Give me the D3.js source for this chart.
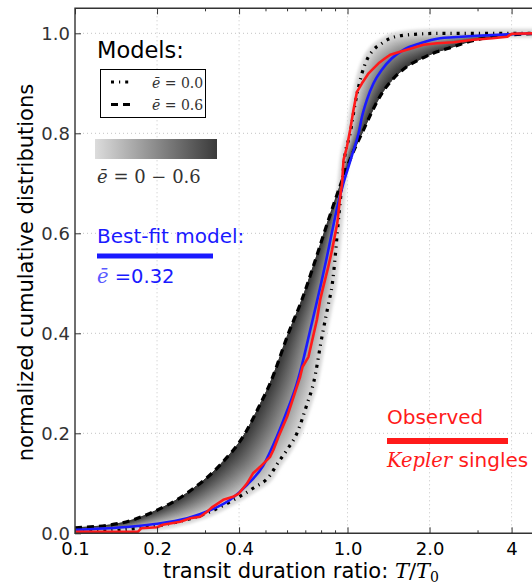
<!DOCTYPE html>
<html>
<head>
<meta charset="utf-8">
<script src="https://cdn.jsdelivr.net/npm/d3@7"></script>
<style>
  body { margin: 0; background: #fff; }
  svg { display: block; }
  text { font-family: "DejaVu Sans", sans-serif; }
  .serif { font-family: "DejaVu Serif", serif; }
</style>
</head>
<body>
<svg id="chart" width="532" height="587"></svg>
<script>
// ---- axis ticks ----
const xTicksMajor = [0.1, 0.2, 0.4, 1.0, 2.0, 4];
const xTickLabels = ["0.1", "0.2", "0.4", "1.0", "2.0", "4"];
const xTicksMinor = [0.3, 0.5, 0.6, 0.7, 0.8, 0.9, 3];
const yTicks = [0, 0.2, 0.4, 0.6, 0.8, 1.0];
const yTickLabels = ["0.0", "0.2", "0.4", "0.6", "0.8", "1.0"];

// ---- cumulative distributions: [T/T0, fraction] ----
// model with circular orbits (mean e = 0.0)
const modelE00 = [
  [0.1, 0.002], [0.15, 0.007], [0.211, 0.017], [0.26, 0.028], [0.313, 0.043],
  [0.371, 0.063], [0.45, 0.09], [0.52, 0.116], [0.551, 0.138], [0.6, 0.167],
  [0.652, 0.2], [0.709, 0.257], [0.75, 0.3], [0.81, 0.4], [0.85, 0.457],
  [0.88, 0.5], [0.9, 0.55], [0.917, 0.6], [0.935, 0.65], [0.955, 0.70],
  [0.975, 0.75], [1.023, 0.8], [1.067, 0.86], [1.098, 0.893], [1.13, 0.92],
  [1.178, 0.947], [1.246, 0.967], [1.337, 0.98], [1.435, 0.99], [1.56, 0.995],
  [1.76, 0.998], [2.2, 1.0], [5, 1.0]
];
// model with mean e = 0.6
const modelE06 = [
  [0.1, 0.011], [0.146, 0.02], [0.194, 0.043], [0.257, 0.08], [0.341, 0.137],
  [0.421, 0.2], [0.47, 0.25], [0.52, 0.3], [0.607, 0.4], [0.68, 0.467],
  [0.75, 0.535], [0.82, 0.6], [0.886, 0.655], [0.954, 0.705], [1.026, 0.75],
  [1.145, 0.807], [1.229, 0.843], [1.337, 0.88], [1.476, 0.91], [1.65, 0.933],
  [1.877, 0.95], [2.13, 0.963], [2.35, 0.97], [2.66, 0.98], [3.16, 0.99],
  [4.0, 0.997], [5.0, 1.0]
];
// best-fit model, mean e = 0.32
const bestFit = [
  [0.1, 0.007], [0.15, 0.012], [0.193, 0.018], [0.258, 0.03], [0.313, 0.046],
  [0.371, 0.067], [0.428, 0.097], [0.49, 0.135], [0.55, 0.193], [0.6, 0.245],
  [0.652, 0.3], [0.69, 0.35], [0.725, 0.4], [0.762, 0.45], [0.8, 0.5],
  [0.838, 0.55], [0.875, 0.6], [0.915, 0.65], [0.96, 0.695], [1.0, 0.727],
  [1.04, 0.757], [1.098, 0.8], [1.13, 0.833], [1.178, 0.867], [1.246, 0.9],
  [1.337, 0.927], [1.455, 0.95], [1.605, 0.967], [1.85, 0.98], [2.19, 0.99],
  [2.45, 0.992], [3.0, 0.995], [3.95, 0.998], [5, 1.0]
];
// observed Kepler singles
const observed = [
  [0.1, 0.003], [0.17, 0.003], [0.175, 0.01], [0.2, 0.012], [0.21, 0.017],
  [0.243, 0.023], [0.265, 0.03], [0.288, 0.033], [0.305, 0.043], [0.32, 0.053],
  [0.35, 0.067], [0.38, 0.073], [0.4, 0.08], [0.428, 0.1], [0.45, 0.12],
  [0.478, 0.133], [0.52, 0.153], [0.535, 0.167], [0.558, 0.193], [0.6, 0.233],
  [0.634, 0.273], [0.67, 0.313], [0.684, 0.333], [0.719, 0.353], [0.772, 0.427],
  [0.794, 0.467], [0.81, 0.487], [0.85, 0.533], [0.878, 0.567], [0.917, 0.62],
  [0.94, 0.673], [0.955, 0.7], [0.967, 0.747], [0.995, 0.773], [1.023, 0.807],
  [1.052, 0.847], [1.083, 0.883], [1.13, 0.9], [1.195, 0.92], [1.246, 0.93],
  [1.3, 0.94], [1.375, 0.95], [1.435, 0.957], [1.56, 0.963], [1.725, 0.97],
  [1.9, 0.977], [2.13, 0.98], [2.45, 0.982], [2.9, 0.987], [3.4, 0.99],
  [3.85, 0.993], [4.0, 0.999], [5, 1.0]
];

const BLUE = "#1a1aff", RED = "#ff1a1a";
const DARK = "#353535", LIGHT = "#d6d6d6";

const svg = d3.select("#chart");
const x = d3.scaleLog().domain([0.1, 5]).range([75, 538]);
const y = d3.scaleLinear().domain([0, 1.05]).range([533.3, 8.3]);
const [x0, x1] = x.range(), [yb, yt] = y.range();

const defs = svg.append("defs");
defs.append("clipPath").attr("id", "plotClip")
  .append("rect").attr("x", x0).attr("y", yt).attr("width", x1 - x0).attr("height", yb - yt);
defs.append("filter").attr("id", "soft").attr("x", "-5%").attr("y", "-5%").attr("width", "110%").attr("height", "110%")
  .append("feGaussianBlur").attr("stdDeviation", 1.6);

// ---- grid ----
const grid = svg.append("g").attr("stroke", "#c4c4c4").attr("stroke-width", 1).attr("stroke-dasharray", "1,3");
grid.selectAll("line.gx").data(xTicksMajor.slice(1)).join("line")
  .attr("x1", d => x(d)).attr("x2", d => x(d)).attr("y1", yt).attr("y2", yb);
grid.selectAll("line.gy").data(yTicks.slice(1)).join("line")
  .attr("x1", x0).attr("x2", x1).attr("y1", d => y(d)).attr("y2", d => y(d));

// ---- plotted content ----
const plot = svg.append("g").attr("clip-path", "url(#plotClip)");
const haloG = plot.append("g");
const bandG = plot.append("g");
const lineG = plot.append("g");

const line = d3.line().x(d => x(d[0])).y(d => y(d[1])).curve(d3.curveMonotoneX);
const lineRaw = d3.line().x(d => x(d[0])).y(d => y(d[1]));

haloG.append("path").attr("d", line(modelE00)).attr("fill", "none")
  .attr("stroke", "#d8d8d8").attr("stroke-width", 9).attr("filter", "url(#soft)");

const pE00 = lineG.append("path").attr("d", line(modelE00)).attr("fill", "none")
  .attr("stroke", "#000").attr("stroke-width", 3.2).attr("stroke-dasharray", "3,5,1.2,5");
const pE06 = lineG.append("path").attr("d", line(modelE06)).attr("fill", "none")
  .attr("stroke", "#000").attr("stroke-width", 3.2).attr("stroke-dasharray", "7,5");
lineG.append("path").attr("d", line(bestFit)).attr("fill", "none")
  .attr("stroke", BLUE).attr("stroke-width", 2.6);
lineG.append("path").attr("d", lineRaw(observed)).attr("fill", "none")
  .attr("stroke", RED).attr("stroke-width", 2.6).attr("stroke-linejoin", "round");

// ---- shaded family of models between e = 0.0 and e = 0.6 ----
function sampleAlong(node, n) {
  const L = node.getTotalLength();
  return d3.range(n + 1).map(i => { const p = node.getPointAtLength(L * i / n); return [p.x, p.y]; });
}
const darkPts = sampleAlong(pE06.node(), 320);
const lightPts = sampleAlong(pE00.node(), 320);
function nearestIndex(p, arr) {
  let bi = 0, bd = Infinity;
  for (let i = 0; i < arr.length; i++) {
    const dx = arr[i][0] - p[0], dy = arr[i][1] - p[1], d = dx * dx + dy * dy;
    if (d < bd) { bd = d; bi = i; }
  }
  return bi;
}
let gid = 0;
function shadeFrom(src, dst, cSrc, cDst) {
  const idx = src.map(p => nearestIndex(p, dst));
  for (let i = 0; i < src.length - 1; i++) {
    const s0 = src[i], s1 = src[i + 1], t0 = dst[idx[i]], t1 = dst[idx[i + 1]];
    const ms = [(s0[0] + s1[0]) / 2, (s0[1] + s1[1]) / 2];
    const mt = [(t0[0] + t1[0]) / 2, (t0[1] + t1[1]) / 2];
    const id = "shade" + (gid++);
    const g = defs.append("linearGradient").attr("id", id).attr("gradientUnits", "userSpaceOnUse")
      .attr("x1", ms[0]).attr("y1", ms[1]).attr("x2", mt[0]).attr("y2", mt[1]);
    g.append("stop").attr("offset", 0).attr("stop-color", cSrc);
    g.append("stop").attr("offset", 1).attr("stop-color", cDst);
    const pts = [s0, s1];
    const lo = Math.min(idx[i], idx[i + 1]), hi = Math.max(idx[i], idx[i + 1]);
    const between = dst.slice(lo, hi + 1);
    if (idx[i + 1] >= idx[i]) between.reverse();
    bandG.append("path").attr("d", "M" + pts.concat(between).map(p => p.join(",")).join("L") + "Z")
      .attr("fill", `url(#${id})`).attr("stroke", `url(#${id})`).attr("stroke-width", 0.8);
  }
}
shadeFrom(darkPts, lightPts, DARK, LIGHT);
shadeFrom(lightPts, darkPts, LIGHT, DARK);

// ---- axes ----
const axG = svg.append("g").attr("font-size", 18);
const bottomAx = axG.append("g").attr("transform", `translate(0,${yb})`)
  .call(d3.axisBottom(x).tickValues(xTicksMajor).tickFormat((d, i) => xTickLabels[i])
    .tickSizeInner(-6).tickSizeOuter(0).tickPadding(9));
axG.append("g").attr("transform", `translate(0,${yb})`)
  .call(d3.axisBottom(x).tickValues(xTicksMinor).tickFormat("").tickSizeInner(-3).tickSizeOuter(0));
axG.append("g").attr("transform", `translate(0,${yt})`)
  .call(d3.axisTop(x).tickValues(xTicksMajor).tickFormat("").tickSizeInner(-6).tickSizeOuter(0));
axG.append("g").attr("transform", `translate(0,${yt})`)
  .call(d3.axisTop(x).tickValues(xTicksMinor).tickFormat("").tickSizeInner(-3).tickSizeOuter(0));
const leftAx = axG.append("g").attr("transform", `translate(${x0},0)`)
  .call(d3.axisLeft(y).tickValues(yTicks).tickFormat((d, i) => yTickLabels[i])
    .tickSizeInner(-6).tickSizeOuter(0).tickPadding(5));
axG.selectAll(".domain").remove();
axG.selectAll(".tick line").attr("stroke", "#333").attr("stroke-width", 1);
bottomAx.selectAll("text").attr("font-family", "DejaVu Sans").attr("font-size", 18).attr("fill", "#000");
leftAx.selectAll("text").attr("font-family", "DejaVu Serif").attr("font-size", 18).attr("fill", "#333");

// spines
const spine = svg.append("g").attr("stroke", "#333").attr("stroke-width", 1.4).attr("fill", "none");
spine.append("path").attr("d", `M${x1 + 2},${yt}H${x0}V${yb}H${x1 + 2}`);

// axis titles
const xt = svg.append("text").attr("x", 163).attr("y", 578).attr("font-size", 21).attr("fill", "#000");
xt.append("tspan").text("transit duration ratio: ");
xt.append("tspan").attr("class", "serif").attr("font-style", "italic").text("T");
xt.append("tspan").attr("class", "serif").text("/");
xt.append("tspan").attr("class", "serif").attr("font-style", "italic").text("T");
xt.append("tspan").attr("class", "serif").attr("font-size", 14).attr("dy", 4).text("0");

svg.append("text").attr("transform", "translate(33,272.5) rotate(-90)")
  .attr("text-anchor", "middle").attr("font-size", 21).attr("fill", "#000")
  .text("normalized cumulative distributions");

// ---- legend: models ----
svg.append("text").attr("x", 97).attr("y", 58).attr("font-size", 22.5).text("Models:");
svg.append("rect").attr("x", 100.5).attr("y", 69.5).attr("width", 105).attr("height", 48)
  .attr("fill", "#fff").attr("stroke", "#000").attr("stroke-width", 1);
const legRows = [
  { dash: "3,5,1.2,5", label: "0.0", yy: 82 },
  { dash: "7,5", label: "0.6", yy: 104.5 }
];
legRows.forEach(r => {
  svg.append("line").attr("x1", 111).attr("x2", 133).attr("y1", r.yy).attr("y2", r.yy)
    .attr("stroke", "#000").attr("stroke-width", 3.2).attr("stroke-dasharray", r.dash);
  const t = svg.append("text").attr("class", "serif").attr("x", 152).attr("y", r.yy + 5.5)
    .attr("font-size", 14).attr("fill", "#333");
  t.append("tspan").attr("font-style", "italic").text("ē");
  t.append("tspan").text(" = " + r.label);
});

const grad = defs.append("linearGradient").attr("id", "eBar");
grad.append("stop").attr("offset", 0).attr("stop-color", "#dcdcdc");
grad.append("stop").attr("offset", 1).attr("stop-color", "#3a3a3a");
svg.append("rect").attr("x", 95).attr("y", 139).attr("width", 122).attr("height", 20).attr("fill", "url(#eBar)");
const eRange = svg.append("text").attr("class", "serif").attr("x", 97).attr("y", 183)
  .attr("font-size", 18).attr("fill", "#333");
eRange.append("tspan").attr("font-style", "italic").text("ē");
eRange.append("tspan").text(" = 0 − 0.6");

// ---- legend: best fit ----
svg.append("text").attr("x", 97).attr("y", 243).attr("font-size", 20).attr("fill", BLUE).text("Best-fit model:");
svg.append("line").attr("x1", 97).attr("x2", 213).attr("y1", 256).attr("y2", 256)
  .attr("stroke", BLUE).attr("stroke-width", 5);
const bf = svg.append("text").attr("x", 97).attr("y", 283).attr("font-size", 19.5).attr("fill", BLUE);
bf.append("tspan").attr("class", "serif").attr("font-style", "italic").attr("fill", "#5a5aff").text("ē");
bf.append("tspan").text(" =0.32");

// ---- legend: observed ----
svg.append("text").attr("x", 387).attr("y", 424).attr("font-size", 20).attr("fill", RED).text("Observed");
svg.append("line").attr("x1", 387).attr("x2", 508).attr("y1", 441).attr("y2", 441)
  .attr("stroke", RED).attr("stroke-width", 6);
const ks = svg.append("text").attr("x", 387).attr("y", 467).attr("font-size", 20).attr("fill", RED);
ks.append("tspan").attr("class", "serif").attr("font-style", "italic").attr("font-size", 19.5).text("Kepler");
ks.append("tspan").text(" singles");
</script>
</body>
</html>
